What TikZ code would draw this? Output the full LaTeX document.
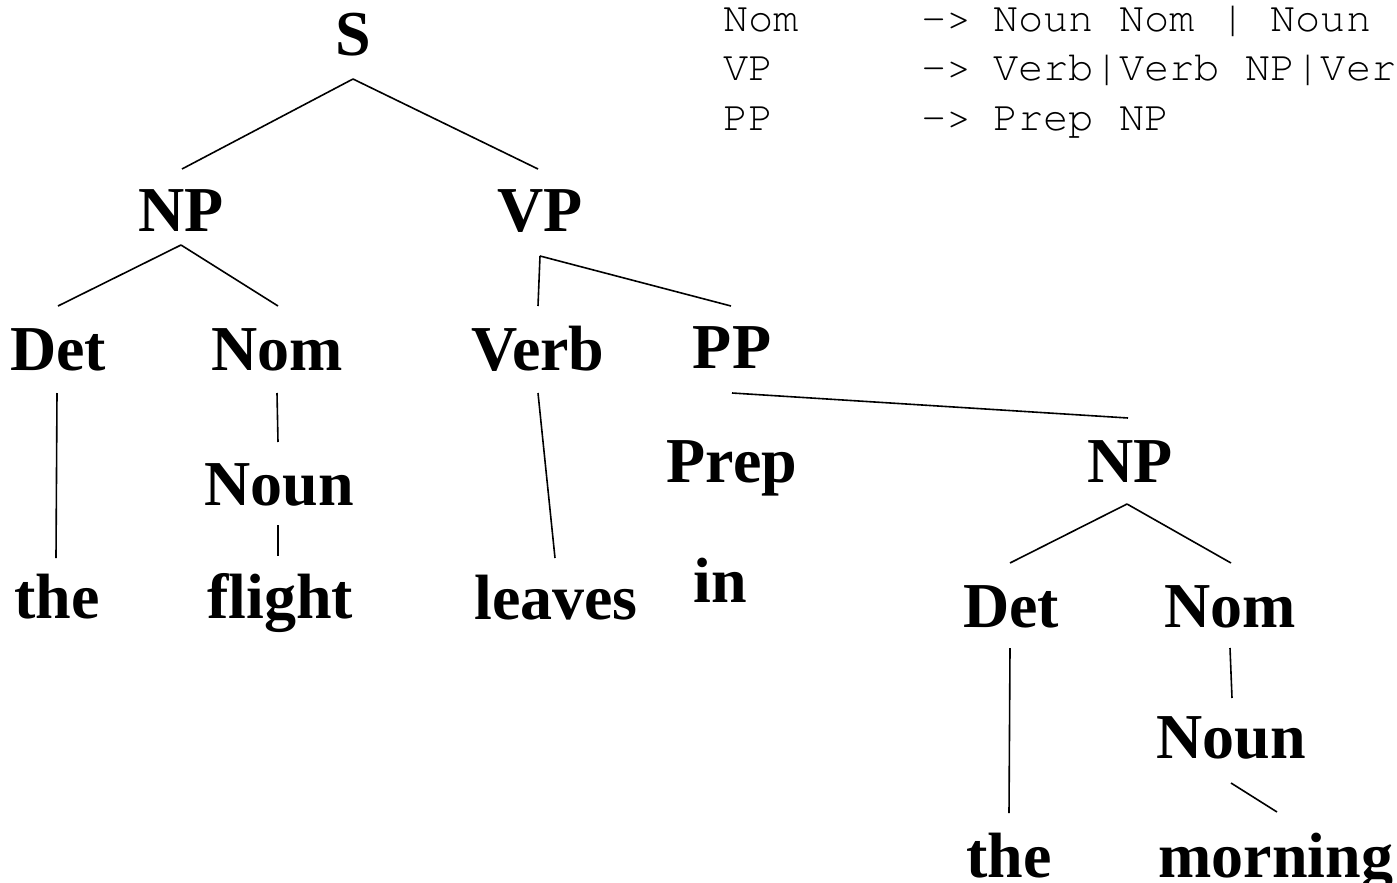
\documentclass[tikz,border=0pt]{standalone}
\usepackage{fontspec}
\setmainfont{Liberation Serif}
\newfontfamily\grammarfont{TeX Gyre Cursor}
\usetikzlibrary{calc}
\begin{document}
\begin{tikzpicture}[x=1pt,y=-1pt,
  cat/.style={anchor=base,inner sep=0pt,font=\fontsize{64}{64}\selectfont\bfseries},
  rule/.style={anchor=base west,inner sep=0pt,font=\grammarfont\fontsize{42}{42}\selectfont},
  branch/.style={line width=1.6pt,line cap=butt}]
\path[use as bounding box,clip] (0,0) rectangle (1397,883);

% grammar rules
\node[rule] (r1l) at (723,32) {Nom};
\node[rule] (r1a) at (921,32) {->};
\node[rule] (r1r) at (993,32) {Noun Nom | Noun};
\node[rule] (r2l) at (723,81) {VP};
\node[rule] (r2a) at (921,81) {->};
\node[rule] (r2r) at (993,81) {Verb|Verb NP|Ver};
\node[rule] (r3l) at (723,130) {PP};
\node[rule] (r3a) at (921,130) {->};
\node[rule] (r3r) at (993,130) {Prep NP};

% tree nodes
\node[cat] (S)     at (353,56)  {S};
\node[cat] (NPa)   at (181,231) {NP};
\node[cat] (VP)    at (540,231) {VP};
\node[cat] (Deta)  at (58,370)  {Det};
\node[cat] (Noma)  at (277,370) {Nom};
\node[cat] (Verb)  at (538,370) {Verb};
\node[cat] (PP)    at (732,368) {PP};
\node[cat] (Nouna) at (279,505) {Noun};
\node[cat] (thea)  at (57,618)  {the};
\node[cat] (flight) at (280,618) {flight};
\node[cat] (leaves) at (556,619) {leaves};
\node[cat] (Prep)  at (732,482) {Prep};
\node[cat] (NPb)   at (1130,482) {NP};
\node[cat] (in)    at (720,602) {in};
\node[cat] (Detb)  at (1011,627) {Det};
\node[cat] (Nomb)  at (1230,627) {Nom};
\node[cat] (Nounb) at (1231,758) {Noun};
\node[cat] (theb)  at (1009,877) {the};
\node[cat] (morning) at (1276,877) {morning};

% branches
\draw[branch] ($(S.base)+(0,23)$) -- ($(NPa.base)+(1,-62)$);
\draw[branch] ($(S.base)+(0,23)$) -- ($(VP.base)+(-2,-62)$);
\draw[branch] ($(NPa.base)+(0,14)$) -- ($(Deta.base)+(0,-64)$);
\draw[branch] ($(NPa.base)+(0,14)$) -- ($(Noma.base)+(1,-64)$);
\draw[branch] ($(VP.base)+(0,25)$) -- ($(Verb.base)+(0,-64)$);
\draw[branch] ($(VP.base)+(0,25)$) -- ($(PP.base)+(-1,-62)$);
\draw[branch] ($(Deta.base)+(-1,23)$) -- ($(thea.base)+(-1,-60)$);
\draw[branch] ($(Noma.base)+(0,23)$) -- ($(Nouna.base)+(-1,-63)$);
\draw[branch] ($(Nouna.base)+(-1,20)$) -- ($(flight.base)+(-2,-62)$);
\draw[branch] ($(Verb.base)+(0,23)$) -- ($(leaves.base)+(-1,-61)$);
\draw[branch] ($(PP.base)+(0,25)$) -- ($(NPb.base)+(-2,-64)$);
\draw[branch] ($(NPb.base)+(-3,22)$) -- ($(Detb.base)+(-1,-64)$);
\draw[branch] ($(NPb.base)+(-3,22)$) -- ($(Nomb.base)+(1,-64)$);
\draw[branch] ($(Detb.base)+(-1,21)$) -- ($(theb.base)+(0,-64)$);
\draw[branch] ($(Nomb.base)+(0,21)$) -- ($(Nounb.base)+(1,-60)$);
\draw[branch] ($(Nounb.base)+(0,25)$) -- ($(morning.base)+(1,-65)$);
\end{tikzpicture}
\end{document}
